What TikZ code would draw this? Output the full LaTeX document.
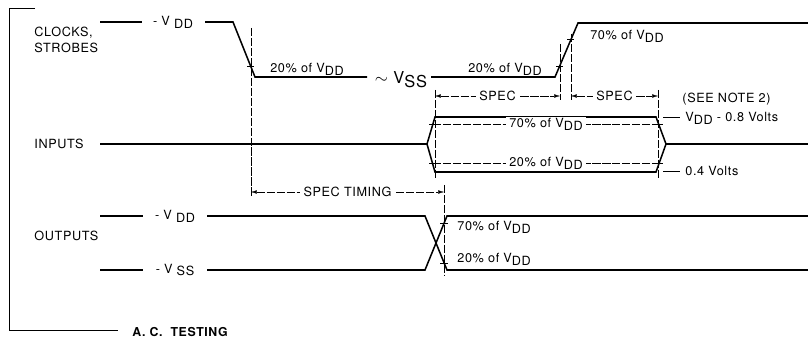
\documentclass[tikz,border=0pt]{standalone}
\usepackage{fontspec}
\setmainfont{TeX Gyre Heros}[LetterSpace=5]
\usetikzlibrary{arrows.meta}
\newcommand{\lo}[1]{\raisebox{-0.45ex}{#1}}
\tikzset{
    sig/.style={line width=1.3pt, line join=miter}, % signal trace
    guide/.style={very thin, dash pattern=on 7pt off 1.5pt}, % reference line
    dim/.style={guide, {Latex[length=5pt,width=3pt]}-{Latex[length=5pt,width=3pt]}},
    lbl/.style={font=\fontsize{10.8}{13}\selectfont, inner sep=1pt},
    gap/.style={lbl, fill=white, inner xsep=3pt},
    tick/.style={thin},
}

\begin{document}
\begin{tikzpicture}[x=0.03cm, y=-0.03cm]
        \useasboundingbox (0,0) rectangle (808,347);
        % frame and title
        \draw[thin] (35,8) -- (9,8) -- (9,330) -- (118,330);
        \node[lbl, anchor=west, font=\fontsize{10.5}{12}\bfseries] (title) at (131,332) {A. C. \ TESTING};
        % clocks, strobes
        \node[lbl, anchor=west, align=left] (clk) at (33,40) {CLOCKS,\\STROBES};
        \draw[sig] (100,22) -- (142,22);
        \node[lbl] (vddc) at (173,22) {- V \lo{DD}};
        \draw[sig] (205,22) -- (233,22) -- (255,77) -- (367,77);
        \node[lbl, font=\fontsize{14}{15}\selectfont] (vssc) at (401,80) {$\sim$ V\lo{SS}};
        \draw[sig] (431,77) -- (555,77) -- (578,23) -- (808,23);
        \node[lbl] (lowa) at (307,69) {20\% of V\lo{DD}};
        \node[lbl] (lowb) at (505,69) {20\% of V\lo{DD}};
        \node[lbl] (high) at (627,36) {70\% of V\lo{DD}};
        \draw[tick] (247,66) -- (254,66);
        \draw[tick] (556,66) -- (563,66);
        \draw[tick] (567,39) -- (574,39);
        \draw[guide] (251,28) -- (251,197);
        \draw[guide] (560,44) -- (560,100);
        \draw[guide] (571,34) -- (571,100);
        % spec windows
        \draw[guide] (435,90) -- (435,178);
        \draw[guide] (658,90) -- (658,178);
        \draw[dim] (435,96) -- node[gap] {SPEC} (560,96);
        \draw[dim] (571,96) -- node[gap] {SPEC} (658,96);
        % inputs
        \node[lbl, anchor=west] (inp) at (33,144) {INPUTS};
        \draw[sig] (100,144) -- (427,144) -- (435,117) -- (656,117) -- (666,144) -- (808,144);
        \draw[sig] (427,144) -- (435,172) -- (656,172) -- (666,144);
        \draw[guide] (433,124) -- node[gap] {70\% of V\lo{DD}} (659,124);
        \draw[guide] (433,163) -- node[gap] {20\% of V\lo{DD}} (659,163);
        \draw[tick] (429,124) -- (437,124);
        \draw[tick] (429,163) -- (437,163);
        \draw[tick] (655,124) -- (663,124);
        \draw[tick] (655,163) -- (663,163);
        \node[lbl, anchor=west] (note) at (681,99) {(SEE NOTE 2)};
        \draw[thin] (663,117) -- (680,117);
        \node[lbl, anchor=west] (vhi) at (684,118) {V\lo{DD} - 0.8 Volts};
        \draw[thin] (663,171) -- (680,171);
        \node[lbl, anchor=west] (vlo) at (684,171) {0.4 Volts};
        % spec timing
        \draw[dim] (251,192) -- node[gap] {SPEC TIMING} (444,192);
        \draw[guide] (444,185) -- (444,276);
        % outputs
        \node[lbl, anchor=west] (outp) at (33,236) {OUTPUTS};
        \draw[sig] (100,216) -- (143,216);
        \node[lbl] (vddo) at (175,216) {- V \lo{DD}};
        \draw[sig] (207,216) -- (425,216) -- (447,270) -- (808,270);
        \draw[sig] (100,270) -- (143,270);
        \node[lbl] (vsso) at (175,270) {- V \lo{SS}};
        \draw[sig] (207,270) -- (425,270) -- (447,216) -- (808,216);
        \draw[tick] (440,223) -- (448,223);
        \draw[tick] (440,263) -- (448,263);
        \node[lbl, anchor=west] (ohi) at (456,227) {70\% of V\lo{DD}};
        \node[lbl, anchor=west] (olo) at (456,259) {20\% of V\lo{DD}};
    \end{tikzpicture}
\end{document}
